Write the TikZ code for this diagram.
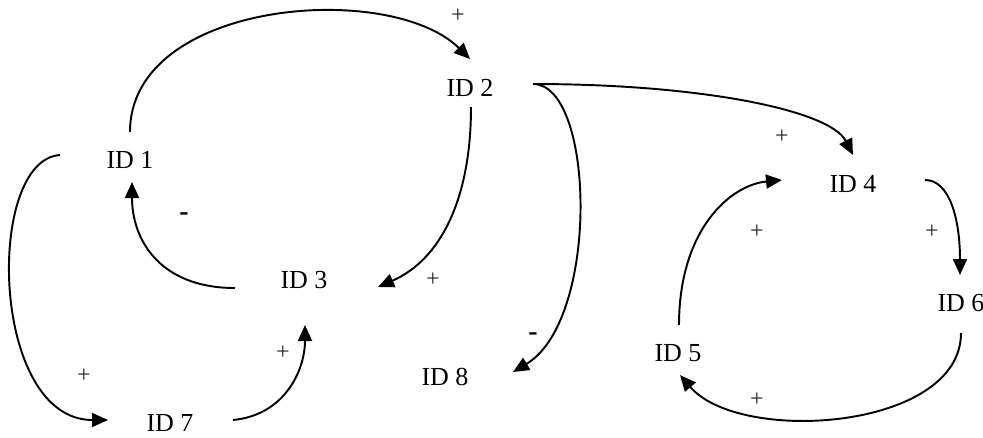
\documentclass[tikz,border=0pt]{standalone}
\usepackage{fontspec}
\setmainfont{Liberation Serif}
\usetikzlibrary{arrows.meta,calc}
\begin{document}
\begin{tikzpicture}[x=0.75pt,y=-0.75pt,
  var/.style={inner sep=0pt, font=\fontsize{19.5}{22}\selectfont},
  pol/.style={inner sep=0pt, font=\fontsize{18}{20}\selectfont, text=black!85},
  neg/.style={inner sep=0pt, font=\fontsize{21}{22}\selectfont\bfseries},
  link/.style={line width=1.45pt, -{Triangle[length=12pt,width=10.5pt]}}]
\useasboundingbox (0,0) rectangle (983,437);
% variables
\node[var] (n1) at (130,160) {ID 1};
\node[var] (n2) at (470,88) {ID 2};
\node[var] (n3) at (304,280) {ID 3};
\node[var] (n4) at (853,184) {ID 4};
\node[var] (n5) at (678,353) {ID 5};
\node[var] (n6) at (961,303) {ID 6};
\node[var] (n7) at (170,423) {ID 7};
\node[var] (n8) at (445,377) {ID 8};
% links
\draw[link] ($(n1)+(0,-28)$) .. controls +(0,-132) and +(-80,-79) .. ($(n2)+(0,-29)$);
\draw[link] ($(n2)+(63,-4)$) .. controls +(167,0) and +(-23,-45) .. ($(n4)+(0,-29)$);
\draw[link] ($(n2)+(63,-4)$) .. controls +(62,0) and +(87,-52) .. ($(n8)+(68,-5)$);
\draw[link] ($(n2)+(1,19)$) .. controls +(0,93) and +(62,-27) .. ($(n3)+(74,7)$);
\draw[link] ($(n3)+(-69,8)$) .. controls +(-75,0) and +(0,58) .. ($(n1)+(2,22)$);
\draw[link] ($(n1)+(-70,-5)$) .. controls +(-75,5) and +(-118,0) .. ($(n7)+(-62,-3)$);
\draw[link] ($(n7)+(63,-3)$) .. controls +(52,-5) and +(0,45) .. ($(n3)+(1,45)$);
\draw[link] ($(n4)+(72,-4)$) .. controls +(25,0) and +(0,-55) .. ($(n6)+(-1,-28)$);
\draw[link] ($(n6)+(0,30)$) .. controls +(0,97) and +(60,70) .. ($(n5)+(2,22)$);
\draw[link] ($(n5)+(1,-28)$) .. controls +(0,-95) and +(-52,5) .. ($(n4)+(-71,-4)$);
% polarities
\node[pol] (p12) at (458,16) {+};
\node[pol] (p24) at (782,137) {+};
\node[pol] (p54) at (757,232) {+};
\node[pol] (p46) at (932,232) {+};
\node[pol] (p65) at (757,400) {+};
\node[pol] (p23) at (433,280) {+};
\node[pol] (p73) at (283,353) {+};
\node[pol] (p17) at (84,376) {+};
\node[neg] (m31) at (184,217) {-};
\node[neg] (m28) at (533,337) {-};
\end{tikzpicture}
\end{document}
